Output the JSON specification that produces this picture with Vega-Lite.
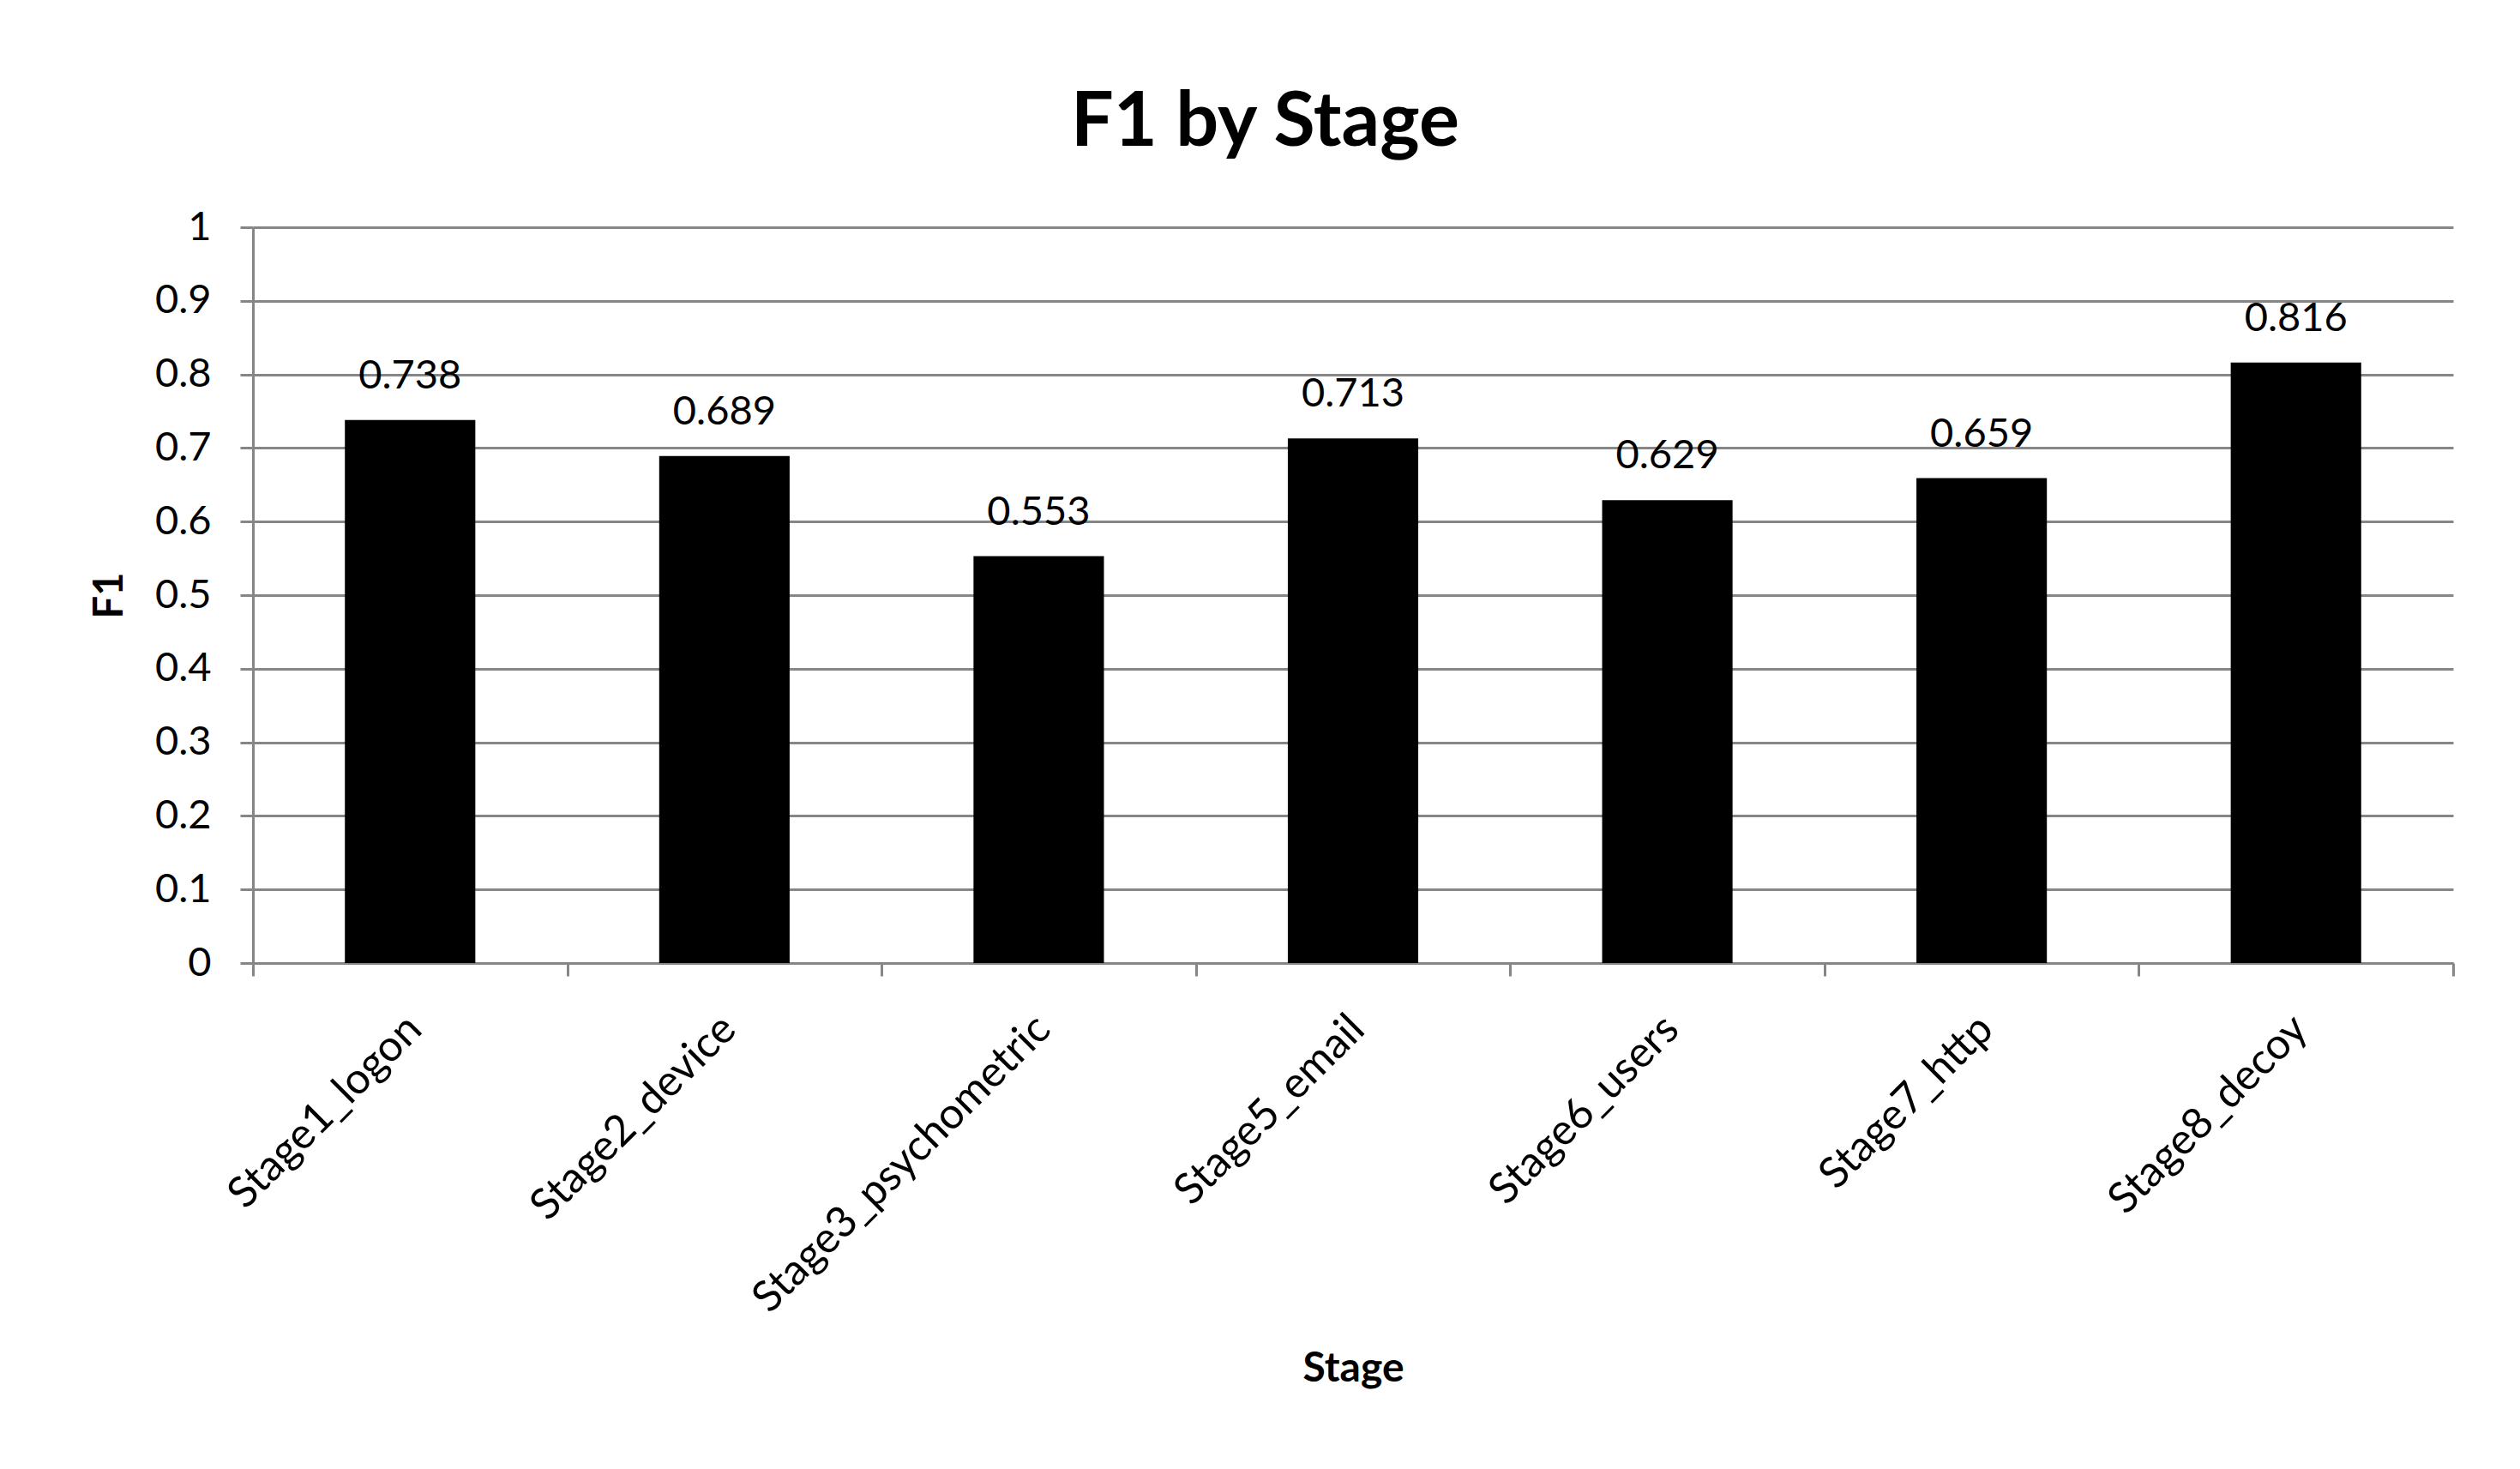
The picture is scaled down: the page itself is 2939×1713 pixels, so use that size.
{
  "$schema": "https://vega.github.io/schema/vega-lite/v6.json",
  "width": 2566,
  "height": 858,
  "autosize": {"type": "none"},
  "padding": {"left": 295, "top": 265, "right": 78, "bottom": 590},
  "background": "white",
  "title": {
    "text": "F1 by Stage",
    "font": "Lato",
    "fontSize": 88,
    "fontWeight": "bold",
    "color": "black",
    "anchor": "middle",
    "frame": "bounds",
    "offset": 53,
    "dx": -8
  },
  "data": {
    "values": [
      {"Stage": "Stage1_logon", "F1": 0.738},
      {"Stage": "Stage2_device", "F1": 0.689},
      {"Stage": "Stage3_psychometric", "F1": 0.553},
      {"Stage": "Stage5_email", "F1": 0.713},
      {"Stage": "Stage6_users", "F1": 0.629},
      {"Stage": "Stage7_http", "F1": 0.659},
      {"Stage": "Stage8_decoy", "F1": 0.816}
    ]
  },
  "encoding": {
    "x": {
      "field": "Stage",
      "type": "nominal",
      "sort": null,
      "scale": {"paddingInner": 0, "paddingOuter": 0},
      "axis": {
        "title": "Stage",
        "titleFontSize": 48,
        "titleFontWeight": "bold",
        "titleBaseline": "alphabetic",
        "titleY": 487,
        "labelAngle": -45,
        "labelAlign": "right",
        "labelBaseline": "middle",
        "labelFontSize": 50,
        "labelLimit": 0,
        "labelPadding": 54,
        "labelOffset": 5,
        "tickBand": "extent",
        "tickSize": 15,
        "grid": false
      }
    },
    "y": {
      "field": "F1",
      "type": "quantitative",
      "scale": {"domain": [0, 1]},
      "axis": {
        "title": "F1",
        "titleFontSize": 47,
        "titleFontWeight": "bold",
        "titlePadding": 28,
        "values": [0, 0.1, 0.2, 0.3, 0.4, 0.5, 0.6, 0.7, 0.8, 0.9, 1],
        "format": "~g",
        "labelFontSize": 47,
        "labelPadding": 34,
        "tickSize": 15,
        "grid": true
      }
    }
  },
  "layer": [
    {"mark": {"type": "bar", "color": "black", "width": {"band": 0.415}}},
    {
      "mark": {
        "type": "text",
        "font": "Lato",
        "fontSize": 47,
        "baseline": "alphabetic",
        "dy": -37,
        "color": "black"
      },
      "encoding": {
        "text": {"field": "F1", "type": "quantitative", "format": ".3f"}
      }
    }
  ],
  "config": {
    "view": {"stroke": null},
    "axis": {
      "domainColor": "#868686",
      "domainWidth": 3,
      "tickColor": "#868686",
      "tickWidth": 3,
      "gridColor": "#868686",
      "gridWidth": 3,
      "labelFont": "Lato",
      "labelColor": "black",
      "titleFont": "Lato",
      "titleColor": "black"
    }
  }
}
